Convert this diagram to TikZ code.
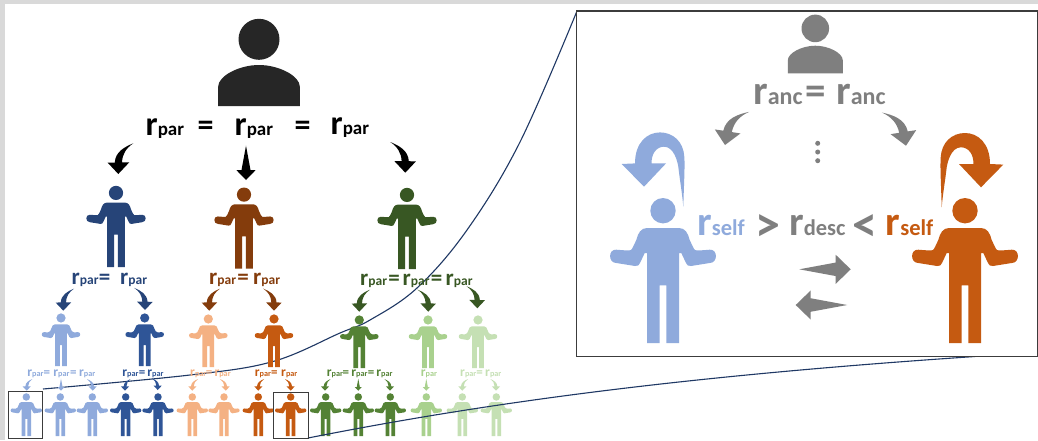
\documentclass[tikz,border=0pt]{standalone}
\usepackage{fontspec}
\setmainfont{Carlito}
\definecolor{navy}{HTML}{264478}
\definecolor{midblue}{HTML}{2F5597}
\definecolor{paleblue}{HTML}{8FAADC}
\definecolor{rust}{HTML}{843C0C}
\definecolor{burnt}{HTML}{C55A11}
\definecolor{peach}{HTML}{F4B183}
\definecolor{pine}{HTML}{385723}
\definecolor{leaf}{HTML}{548235}
\definecolor{sprout}{HTML}{A9D18E}
\definecolor{mist}{HTML}{C5E0B4}
\definecolor{ash}{HTML}{7F7F7F}
\definecolor{coal}{HTML}{262626}
\definecolor{linkblue}{HTML}{1F3864}
\newcommand{\rterm}[3]{\fontsize{#1}{#1}\selectfont r\fontsize{#2}{#2}\selectfont #3}
\newcommand{\rone}{\rterm{34}{19}{par}}
\newcommand{\rtwo}{\rterm{23}{13.5}{par}}
\newcommand{\rthree}{\rterm{13.5}{8.2}{par}}
\tikzset{
  rlab/.style={anchor=base west,inner sep=0pt,font=\bfseries},
  eqone/.style={anchor=base,inner sep=0pt,font=\bfseries\fontsize{32}{32}\selectfont},
  eqtwo/.style={anchor=base,inner sep=0pt,font=\bfseries\fontsize{23}{23}\selectfont},
  eqthree/.style={anchor=base,inner sep=0pt,font=\bfseries\fontsize{13}{13}\selectfont},
  eqfour/.style={anchor=base,inner sep=0pt,font=\bfseries\fontsize{41}{41}\selectfont},
  eqfive/.style={anchor=base,inner sep=0pt,font=\bfseries\fontsize{50}{50}\selectfont},
  crop/.style={draw=coal!90,line width=1.3pt},
  link/.style={draw=linkblue,line width=1.1pt},
  shrug/.pic={
    \fill[pic actions] (0,-132.3) circle[radius=12.7];
    \fill[pic actions] (0,-115) -- (16,-115) .. controls (22,-115) and (25,-110) .. (26.7,-103) -- (30,-96) .. controls (31.5,-92.5) and (33,-92.2) .. (36,-92.5)
      -- (46.7,-93.3) .. controls (55,-94) and (55,-80) .. (46.7,-80) -- (28,-77) .. controls (25,-76.5) and (24,-78) .. (23,-80)
      -- (18.3,-90) -- (16,-90) -- (16,0) -- (3.3,0) -- (3.3,-57.7) -- (-3.3,-57.7) -- (-3.3,0) -- (-16,0) -- (-16,-90) -- (-18.3,-90)
      -- (-23,-80) .. controls (-24,-78) and (-25,-76.5) .. (-28,-77) -- (-46.7,-80) .. controls (-55,-80) and (-55,-94) .. (-46.7,-93.3)
      -- (-36,-92.5) .. controls (-33,-92.2) and (-31.5,-92.5) .. (-30,-96) -- (-26.7,-103) .. controls (-25,-110) and (-22,-115) .. (-16,-115) -- cycle;
  },
  bust/.pic={
    \fill[pic actions] (0,-66.7) circle[radius=20.5];
    \fill[pic actions] (-40.85,0) -- (-40.85,-19.3) .. controls (-40.85,-30) and (-20,-41) .. (0,-41)
      .. controls (20,-41) and (40.85,-30) .. (40.85,-19.3) -- (40.85,0) -- cycle;
  },
  swoop/.pic={
    \fill[pic actions] (15,-30.7) .. controls (6,-27) and (-3,-22) .. (-3.5,-11.5) -- (-10.6,-11.3) -- (0,0)
      -- (11,-11.7) -- (3.7,-11.6) .. controls (4,-20) and (8,-26) .. cycle;
  },
  dart/.pic={
    \fill[pic actions] (0,-34.3) -- (4.5,-10) -- (9.7,-10) -- (0,0) -- (-9.7,-10) -- (-4.5,-10) -- cycle;
  },
  uturn/.pic={
    \fill[pic actions] (39.3,20) .. controls (40,-5) and (41,-20) .. (40.3,-30) .. controls (39.5,-45) and (29,-54.3) .. (16,-54.3)
      .. controls (3,-54.3) and (-9,-44) .. (-9,-23.3) -- (-22.3,-22.7) -- (0,0) -- (22,-23.3) -- (7.7,-23.3)
      .. controls (7,-32) and (12,-40) .. (20,-40) .. controls (30,-40) and (33.5,-25) .. (34.3,-20) .. controls (36,-5) and (38,5) .. cycle;
  },
}
\begin{document}
\begin{tikzpicture}[x=1pt,y=-1pt]
  \useasboundingbox (0,0) rectangle (1038,440);
  \fill[gray!30] (0,0) rectangle (1038,440);
  \fill[white] (4.5,4) rectangle (1038,440);
  \draw[link] plot[smooth,tension=.6] coordinates {(43,389) (190,375) (273,361.5) (340,333) (370,320) (417,288) (467,230) (520,142) (577,11)};

  % root and first generation
  \pic[fill=coal] at (259,106) {bust};
  \node[rlab] (a1) at (145.5,135) {\rone};
  \node[eqone] (a2) at (205.5,135) {=};
  \node[rlab] (a3) at (234.5,135) {\rone};
  \node[eqone] (a4) at (302.5,135) {=};
  \node[rlab] (a5) at (330.5,134) {\rone};
  \pic[fill=black] at (118.3,174) {swoop};
  \pic[fill=black] at (246,180) {dart};
  \pic[fill=black,xscale=-1] at (405.3,172.7) {swoop};
  \pic[fill=navy,scale=.56] at (116,267) {shrug};
  \pic[fill=rust,scale=.56] at (244,268.7) {shrug};
  \pic[fill=pine,scale=.56] at (407,269) {shrug};

  % second generation
  \node[rlab,text=navy] (b1) at (71.5,284) {\rtwo};
  \node[eqtwo,text=navy] (b2) at (104.5,284) {=};
  \node[rlab,text=navy] (b3) at (120,284) {\rtwo};
  \node[rlab,text=rust] (b4) at (209,284.5) {\rtwo};
  \node[eqtwo,text=rust] (b5) at (243,284.5) {=};
  \node[rlab,text=rust] (b6) at (253,284.5) {\rtwo};
  \node[rlab,text=pine] (b7) at (360,285) {\rtwo};
  \node[eqtwo,text=pine] (b8) at (394,285) {=};
  \node[rlab,text=pine] (b9) at (402.5,285) {\rtwo};
  \node[eqtwo,text=pine] (b10) at (436.7,285) {=};
  \node[rlab,text=pine] (b11) at (445.5,285) {\rtwo};
  \pic[fill=navy,scale=.72] at (63.3,310.7) {swoop};
  \pic[fill=navy,scale=.72,xscale=-1] at (145,310) {swoop};
  \pic[fill=rust,scale=.72] at (209.3,310.7) {swoop};
  \pic[fill=rust,scale=.72,xscale=-1] at (274,310.7) {swoop};
  \pic[fill=pine,scale=.72] at (359.3,311.7) {swoop};
  \pic[fill=pine,scale=.72,xscale=-1] at (428.3,311.7) {swoop};
  \pic[fill=pine,scale=.72,xscale=-1] at (477.3,308.3) {swoop};
  \pic[fill=paleblue,scale=.363] at (61,366) {shrug};
  \pic[fill=midblue,scale=.363] at (144.7,366) {shrug};
  \pic[fill=peach,scale=.363] at (208.3,367) {shrug};
  \pic[fill=burnt,scale=.363] at (274,367) {shrug};
  \pic[fill=leaf,scale=.363] at (359.3,368) {shrug};
  \pic[fill=sprout,scale=.363] at (428,368) {shrug};
  \pic[fill=mist,scale=.363] at (478,368) {shrug};

  % third generation
  \node[rlab,text=paleblue] (c1) at (27.2,376.7) {\rthree};
  \node[eqthree,text=paleblue] (c2) at (46.8,376.7) {=};
  \node[rlab,text=paleblue] (c3) at (53.2,376.7) {\rthree};
  \node[eqthree,text=paleblue] (c4) at (73.3,376.7) {=};
  \node[rlab,text=paleblue] (c5) at (79,376.7) {\rthree};
  \node[rlab,text=midblue] (c6) at (122.2,376.7) {\rthree};
  \node[eqthree,text=midblue] (c7) at (142.2,376.7) {=};
  \node[rlab,text=midblue] (c8) at (147.2,376.7) {\rthree};
  \node[rlab,text=peach] (c9) at (190,376.7) {\rthree};
  \node[eqthree,text=peach] (c10) at (209.2,376.7) {=};
  \node[rlab,text=peach] (c11) at (214.3,376.7) {\rthree};
  \node[rlab,text=burnt] (c12) at (254.6,376.7) {\rthree};
  \node[eqthree,text=burnt] (c13) at (274.3,376.7) {=};
  \node[rlab,text=burnt] (c14) at (281,376.7) {\rthree};
  \node[rlab,text=leaf] (c15) at (326.6,376.7) {\rthree};
  \node[eqthree,text=leaf] (c16) at (345.8,376.7) {=};
  \node[rlab,text=leaf] (c17) at (351.2,376.7) {\rthree};
  \node[eqthree,text=leaf] (c18) at (371.2,376.7) {=};
  \node[rlab,text=leaf] (c19) at (376.2,376.7) {\rthree};
  \node[rlab,text=sprout] (c20) at (420.6,376.7) {\rthree};
  \node[rlab,text=mist] (c21) at (460,376.7) {\rthree};
  \node[eqthree,text=mist] (c22) at (479.5,376.7) {=};
  \node[rlab,text=mist] (c23) at (485,376.7) {\rthree};
  \pic[fill=paleblue,scale=.38] at (26.7,390.7) {swoop};
  \pic[fill=paleblue,scale=.35] at (61,390.7) {dart};
  \pic[fill=paleblue,scale=.38,xscale=-1] at (92.7,390.7) {swoop};
  \pic[fill=midblue,scale=.38] at (125,390.7) {swoop};
  \pic[fill=midblue,scale=.38,xscale=-1] at (157.7,390) {swoop};
  \pic[fill=peach,scale=.38] at (192.3,390.7) {swoop};
  \pic[fill=peach,scale=.38,xscale=-1] at (225.7,390.7) {swoop};
  \pic[fill=burnt,scale=.38] at (258.3,390.7) {swoop};
  \pic[fill=burnt,scale=.38,xscale=-1] at (290.7,390.7) {swoop};
  \pic[fill=leaf,scale=.38] at (325,390.7) {swoop};
  \pic[fill=leaf,scale=.35] at (358.3,390.7) {dart};
  \pic[fill=leaf,scale=.38,xscale=-1] at (390,390.7) {swoop};
  \pic[fill=sprout,scale=.35] at (426.3,390.7) {dart};
  \pic[fill=mist,scale=.38] at (462.3,390.7) {swoop};
  \pic[fill=mist,scale=.38,xscale=-1] at (496,390.7) {swoop};
  \pic[fill=paleblue,scale=.295] at (26.3,436) {shrug};
  \pic[fill=paleblue,scale=.295] at (60.3,436) {shrug};
  \pic[fill=paleblue,scale=.295] at (92.3,436) {shrug};
  \pic[fill=midblue,scale=.295] at (125.7,436) {shrug};
  \pic[fill=midblue,scale=.295] at (158,436) {shrug};
  \pic[fill=peach,scale=.295] at (192.3,436) {shrug};
  \pic[fill=peach,scale=.295] at (224,436) {shrug};
  \pic[fill=burnt,scale=.295] at (258.3,436) {shrug};
  \pic[fill=burnt,scale=.295] at (290.7,436) {shrug};
  \pic[fill=leaf,scale=.295] at (325.7,436) {shrug};
  \pic[fill=leaf,scale=.295] at (358.3,436) {shrug};
  \pic[fill=leaf,scale=.295] at (390.3,436) {shrug};
  \pic[fill=sprout,scale=.295] at (426.3,436) {shrug};
  \pic[fill=mist,scale=.295] at (462.3,436) {shrug};
  \pic[fill=mist,scale=.295] at (496.3,436) {shrug};

  \draw[link] (308,438) .. controls (500,400) and (700,375) .. (975,356.5);
  \draw[crop] (8.3,391.3) rectangle (42.7,438.3);
  \draw[crop] (273.3,392.7) rectangle (308.3,438.3);

  % zoomed box
  \draw[crop,fill=white] (576.7,11) rectangle (1037.4,356.7);
  \pic[fill=ash,scale=.673] at (815.3,73.3) {bust};
  \node[rlab,text=ash] (d1) at (753,104) {\rterm{41}{24}{anc}};
  \node[eqfour,text=ash] (d2) at (815.7,104) {=};
  \node[rlab,text=ash] (d3) at (836,104) {\rterm{41}{24}{anc}};
  \pic[fill=ash,scale=1.2,rotate=-10] at (725,145) {swoop};
  \pic[fill=ash,xscale=-1.2,yscale=1.2,rotate=-10] at (906,145.7) {swoop};
  \fill[ash] (817.7,143.3) circle[radius=2.5];
  \fill[ash] (817.7,152) circle[radius=2.5];
  \fill[ash] (817.7,160.7) circle[radius=2.5];
  \pic[fill=paleblue] at (644,186.7) {uturn};
  \pic[fill=burnt,xscale=-1] at (981,187.3) {uturn};
  \pic[fill=paleblue] at (663,343) {shrug};
  \pic[fill=burnt] at (965,343) {shrug};
  \node[rlab,text=paleblue] (d4) at (697,235) {\rterm{41}{22.5}{self}};
  \node[eqfive,text=ash] (d5) at (768.3,241) {>};
  \node[rlab,text=ash] (d6) at (789,235) {\rterm{41}{22.5}{desc}};
  \node[eqfive,text=ash] (d7) at (865,241) {<};
  \node[rlab,text=burnt] (d8) at (885.5,235) {\rterm{41}{22.5}{self}};
  \pic[fill=ash,scale=1.5,rotate=90] at (850.7,269.3) {dart};
  \pic[fill=ash,scale=1.5,rotate=-90] at (795.7,305) {dart};
\end{tikzpicture}
\end{document}
